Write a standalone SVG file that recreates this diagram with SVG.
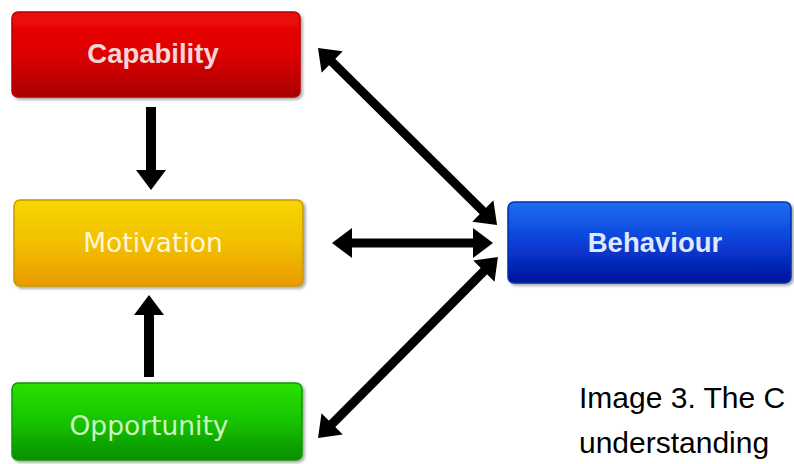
<svg xmlns="http://www.w3.org/2000/svg" width="794" height="464" viewBox="0 0 794 464">
  <style>
    .box { stroke-width: 1.5; filter: url(#shadow); }
    .label { font-family: "Liberation Sans", Arial, sans-serif; font-weight: bold; font-size: 27.5px; text-anchor: middle; }
    .label-light { font-family: "DejaVu Sans", Verdana, sans-serif; font-size: 26.5px; text-anchor: middle; }
    .conn { stroke: #000; stroke-width: 9; fill: none; marker-start: url(#head); marker-end: url(#head); }
    .conn-one { stroke: #000; stroke-width: 10; fill: none; marker-end: url(#head); }
    .caption { font-family: "Liberation Sans", Arial, sans-serif; font-size: 30px; fill: #000; }
  </style>
  <defs>
    <linearGradient id="gRed" x1="0" y1="0" x2="0" y2="1">
      <stop offset="0" stop-color="#ee0a0a"/>
      <stop offset="0.5" stop-color="#dd0000"/>
      <stop offset="1" stop-color="#a80000"/>
    </linearGradient>
    <linearGradient id="gYellow" x1="0" y1="0" x2="0" y2="1">
      <stop offset="0" stop-color="#f7d600"/>
      <stop offset="0.5" stop-color="#f2c000"/>
      <stop offset="1" stop-color="#e89a00"/>
    </linearGradient>
    <linearGradient id="gGreen" x1="0" y1="0" x2="0" y2="1">
      <stop offset="0" stop-color="#2ae000"/>
      <stop offset="0.5" stop-color="#16c400"/>
      <stop offset="1" stop-color="#0a8e00"/>
    </linearGradient>
    <linearGradient id="gBlue" x1="0" y1="0" x2="0" y2="1">
      <stop offset="0" stop-color="#1c6ef0"/>
      <stop offset="0.5" stop-color="#0a40d8"/>
      <stop offset="1" stop-color="#00129a"/>
    </linearGradient>
    <filter id="shadow" x="-5%" y="-10%" width="112%" height="130%">
      <feGaussianBlur in="SourceAlpha" stdDeviation="1.5"/>
      <feOffset dx="1.5" dy="2" result="off"/>
      <feComponentTransfer><feFuncA type="linear" slope="0.35"/></feComponentTransfer>
      <feMerge><feMergeNode/><feMergeNode in="SourceGraphic"/></feMerge>
    </filter>
    <marker id="head" viewBox="0 0 20 30" markerUnits="userSpaceOnUse" markerWidth="20" markerHeight="30" refX="8" refY="15" orient="auto-start-reverse">
      <path d="M0,0 L20,15 L0,30 z" fill="#000"/>
    </marker>
  </defs>

  <g id="capability">
    <rect class="box" x="12" y="12" width="288" height="85" rx="6" fill="url(#gRed)" stroke="#b80000"/>
    <text class="label" x="153" y="63" fill="#f8d6d6">Capability</text>
  </g>

  <g id="motivation">
    <rect class="box" x="14" y="200" width="289" height="86" rx="6" fill="url(#gYellow)" stroke="#c89800"/>
    <text class="label-light" x="153" y="252" fill="#fff6d8">Motivation</text>
  </g>

  <g id="opportunity">
    <rect class="box" x="12" y="383" width="290" height="77" rx="6" fill="url(#gGreen)" stroke="#0a9a00"/>
    <text class="label-light" x="149" y="435" fill="#c8f7c0">Opportunity</text>
  </g>

  <g id="behaviour">
    <rect class="box" x="508" y="202" width="283" height="81" rx="6" fill="url(#gBlue)" stroke="#0030b0"/>
    <text class="label" x="655" y="252" fill="#dde9ff">Behaviour</text>
  </g>

  <g id="connectors">
    <line class="conn-one" x1="151" y1="107" x2="151" y2="178"/>
    <line class="conn-one" x1="149" y1="377" x2="149" y2="307"/>
    <line class="conn" x1="326.5" y1="56.4" x2="488.5" y2="216.6"/>
    <line class="conn" x1="344" y1="243" x2="481" y2="243"/>
    <line class="conn" x1="489.5" y1="265.5" x2="326.5" y2="429.5"/>
  </g>

  <g id="caption">
    <text class="caption" x="579" y="408">Image 3. The C</text>
    <text class="caption" x="579" y="453">understanding</text>
  </g>
</svg>
